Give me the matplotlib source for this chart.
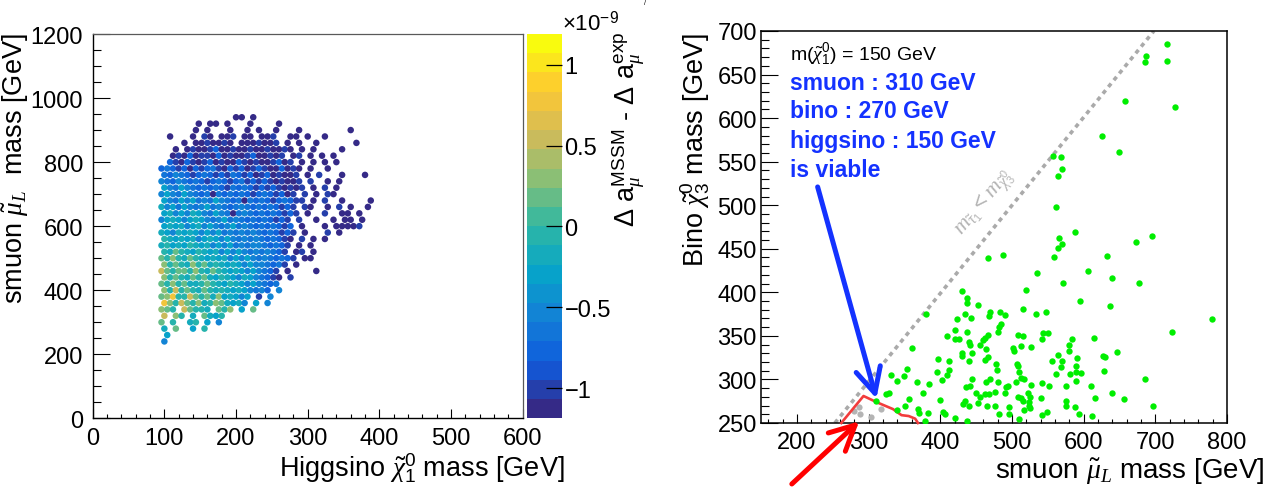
import matplotlib
matplotlib.use("Agg")
import matplotlib.pyplot as plt
from matplotlib.colors import LinearSegmentedColormap, Normalize
from matplotlib.ticker import MultipleLocator

plt.rcParams['font.family'] = ['Liberation Sans', 'DejaVu Sans']
plt.rcParams['mathtext.fontset'] = 'custom'
plt.rcParams['mathtext.rm'] = 'Liberation Sans'
plt.rcParams['mathtext.it'] = 'Liberation Serif:italic'
plt.rcParams['mathtext.bf'] = 'Liberation Sans:bold'
plt.rcParams['mathtext.sf'] = 'Liberation Sans'
plt.rcParams['axes.unicode_minus'] = True

# ---------------- left panel: scan points (raster) -------------
# each row is one smuon-mass band (top row = 940 GeV, step 20 GeV);
# each character one higgsino-mass column (first = 96 GeV, step 8 GeV);
# letter = colour level of Delta a_mu (see level_codes / level_values), '.' = no point
higgsino_first = 96
higgsino_step = 8
smuon_first = 940
smuon_step = 20
scan_rows = [
    ".............aa.a.....................",
    "......a.aa.a...a....a.................",
    "......a.a...a..a.a..a...a........a....",
    ".a...a.ba.aab.aa.aab..aa.a..a.........",
    "....a.aabaaba.aaabaab.a.a..a......a...",
    "..a.abaabcaabaabaabaaba.a.a....a......",
    "..abacabbacabaabcaabab.ab.a.a.a.......",
    ".cbacbabcabaacbabaabcab.a.a.a.a.......",
    "cdcbcacbcdbacbcabcbaacaba.a..a........",
    "dcedcbcdcbcbdcbcabcabaab.a.b...a...a..",
    "edcedcdcbcdcbcdbcbcbabaab.b..a.a......",
    "fedfedcdcdcbdcdcbcbcbabab.a.b.a.......",
    "efedfedcdadcdcdcbcdcbcab.b.a.ba.......",
    "fedfefdedfedcdadcdcbcdcbb.a.b..a....a.",
    "gefdfedefdedcdedcdcdcbcb.ba..a.b.a..a.",
    "fgefegfedfedadedcdcdcbcb.a..b..aa.a...",
    "efgfefgfedefdedcdcdcbcb.b..a..a.aa.a..",
    "fgfgefgefedefdedcdcdcbc.a...a.aaaab...",
    "gfegfgfefefdedededcdcbcb.a...b.a......",
    "hgfgfgefgfefedededcdcba.b.a.a.........",
    "ghfgfhgfgefefdedeedcdcb.a.a...........",
    "hgihgfhgfgefefedededcb.ab.a...........",
    "ihjhgihgfgfgefefededcdcb.aa...........",
    "jhihgjhighgfgfefeedcdb.a..............",
    "kihiihjhgihgfgfefedcb.a....a..........",
    "jhihgihigfhgfegfedcba.b...............",
    "ihjhigghihgfhgfefedcd.................",
    "jhkhihgihghgfgfedec.e.................",
    "ijlhhkihigjfgfef.b.e..................",
    "ljhkihjghjigfge.f.e...................",
    "jih.kihhg.ihj.f.i.....................",
    "k.jh.g.igfh...........................",
    "i.h..gh.f.e...........................",
    "g.i..f.h..............................",
    ".f....................................",
    "e.....................................",
]
level_codes = "abcdefghijkl"
level_values = [-1.10, -0.95, -0.80, -0.65, -0.50, -0.35, -0.20, -0.05, 0.15, 0.35, 0.55, 0.80]

cbar_ticks = [-1.0, -0.5, 0.0, 0.5, 1.0]
cbar_ticklabels = ["\u22121", "\u22120.5", "0", "0.5", "1"]
cbar_min, cbar_max = -1.187, 1.19

# ROOT kBird palette
bird_stops = [0.0, 0.125, 0.25, 0.375, 0.5, 0.625, 0.75, 0.875, 1.0]
bird_r = [0.2082, 0.0592, 0.0780, 0.0232, 0.1802, 0.5301, 0.8186, 0.9956, 0.9764]
bird_g = [0.1664, 0.3599, 0.5041, 0.6419, 0.7178, 0.7492, 0.7328, 0.7862, 0.9832]
bird_b = [0.5293, 0.8684, 0.8385, 0.7914, 0.6425, 0.4662, 0.3499, 0.1968, 0.0539]

# ---------------- right panel ----------------
viable_smuon = [716, 686, 687, 716, 658, 727, 626, 650, 557, 569, 570, 564, 562, 588, 695, 673,
                565, 570, 564, 558, 466, 487, 632, 606, 535, 639, 571, 677, 519, 431, 595, 438,
                437, 452, 380, 435, 470, 468, 484, 490, 516, 533, 547, 637, 779, 443, 423, 485,
                482, 480, 421, 437, 409, 420, 426, 440, 459, 466, 463, 509, 516, 527, 543, 550,
                542, 584, 614, 723, 360, 441, 456, 464, 502, 512, 503, 580, 580, 647, 627, 630,
                564, 591, 430, 431, 445, 466, 397, 412, 463, 440, 556, 570, 589, 507, 508, 510,
                478, 479, 354, 396, 412, 569, 589, 597, 562, 581, 629, 686, 332, 349, 340, 367,
                385, 409, 403, 444, 469, 464, 481, 494, 492, 505, 512, 517, 527, 542, 552, 575,
                589, 610, 324, 329, 376, 436, 442, 450, 455, 462, 468, 476, 490, 509, 512, 523,
                525, 540, 616, 639, 656, 434, 432, 452, 516, 524, 524, 575, 356, 369, 399, 351,
                340, 370, 383, 404, 406, 420, 379, 438, 440, 465, 477, 482, 496, 496, 510, 517,
                525, 542, 549, 575, 588, 593, 611, 697, 311]
viable_bino = [685, 664, 671, 665, 620, 613, 580, 561, 556, 555, 542, 533, 498, 469, 465, 458,
               462, 456, 451, 441, 439, 443, 442, 425, 422, 416, 411, 411, 403, 402, 390, 394,
               388, 385, 375, 375, 377, 373, 377, 374, 381, 375, 377, 384, 369, 371, 369, 364,
               360, 355, 357, 355, 350, 347, 346, 343, 345, 351, 348, 351, 350, 337, 353, 353,
               346, 347, 348, 354, 336, 339, 339, 335, 336, 338, 333, 339, 333, 332, 327, 326,
               328, 325, 330, 327, 330, 326, 323, 321, 322, 321, 321, 321, 316, 318, 315, 309,
               318, 311, 312, 309, 311, 314, 309, 307, 306, 306, 310, 300, 305, 304, 298, 297,
               295, 305, 299, 301, 301, 297, 297, 293, 291, 297, 302, 301, 294, 296, 292, 293,
               298, 293, 283, 284, 284, 291, 292, 284, 280, 283, 283, 286, 284, 280, 279, 284,
               280, 279, 279, 284, 278, 275, 272, 273, 275, 274, 270, 275, 277, 266, 276, 270,
               265, 262, 261, 263, 260, 256, 252, 252, 269, 270, 270, 260, 260, 268, 255, 265,
               267, 259, 263, 270, 268, 260, 258, 270, 275]
excluded_smuon = [280, 287, 288, 304, 318]
excluded_bino = [264, 268, 260, 257, 266]
limit_smuon = [262, 293, 311, 334, 346, 356, 365, 369]
limit_bino = [250, 281, 274, 266, 259, 258, 255, 250]
diag_smuon = [253, 698]
diag_bino = [250, 700]
blue_arrow_from = (229, 521)
blue_arrow_to = (311, 278)
red_arrow_from = (193, 180)
red_arrow_to = (287, 252)
info_lines = ["smuon : 310 GeV", "bino : 270 GeV", "higgsino : 150 GeV", "is viable"]

# ---------------- figure ----------------
W, H = 1267, 489
fig = plt.figure(figsize=(W / 100, H / 100), dpi=100)
fig.patch.set_facecolor('white')


def px(x0, y0, x1, y1):
    return [x0 / W, 1 - y1 / H, (x1 - x0) / W, (y1 - y0) / H]


ax1 = fig.add_axes(px(92.7, 35, 522.7, 419.3))
cax = fig.add_axes(px(527.3, 35, 561.7, 419.3))
ax2 = fig.add_axes(px(761, 32, 1227, 424))

colors = [(s, (r, g, b)) for s, r, g, b in zip(bird_stops, bird_r, bird_g, bird_b)]
cmap = LinearSegmentedColormap.from_list('bird', colors, N=20)
norm = Normalize(vmin=cbar_min, vmax=cbar_max)

hx, hy, hz = [], [], []
for j, row in enumerate(scan_rows):
    for i, ch in enumerate(row):
        if ch in level_codes:
            hx.append(higgsino_first + higgsino_step * i + (higgsino_step / 2) * (j % 2))
            hy.append(smuon_first - smuon_step * j)
            hz.append(level_values[level_codes.index(ch)])

sc = ax1.scatter(hx, hy, c=hz, cmap=cmap, norm=norm, s=22, linewidths=0, zorder=2)
ax1.set_xlim(0, 600)
ax1.set_ylim(0, 1200)
ax1.xaxis.set_major_locator(MultipleLocator(100))
ax1.xaxis.set_minor_locator(MultipleLocator(20))
ax1.yaxis.set_major_locator(MultipleLocator(200))
ax1.yaxis.set_minor_locator(MultipleLocator(50))
for ax in (ax1, ax2):
    ax.tick_params(which='both', direction='in', top=False, right=False, width=0.8, colors='black')
    ax.tick_params(axis='x', which='major', length=6.7, pad=6, labelsize=17)
    ax.tick_params(axis='x', which='minor', length=3.2)
    ax.tick_params(axis='y', which='major', length=12, labelsize=17)
    ax.tick_params(axis='y', which='minor', length=6)
ax1.tick_params(axis='y', which='major', pad=7)
ax2.tick_params(axis='y', which='major', pad=3)
for s in ('left', 'bottom'):
    ax1.spines[s].set_linewidth(1.0)
for s in ('top', 'right'):
    ax1.spines[s].set_linewidth(0.9)
    ax1.spines[s].set_color('0.35')
    ax1.spines[s].set_linestyle((0, (2, 1)))

cb = fig.colorbar(sc, cax=cax, ticks=cbar_ticks)
cb.outline.set_visible(False)
cax.yaxis.set_ticks_position('right')
cax.minorticks_off()
cax.tick_params(which='major', direction='in', length=11.3, width=0.9, pad=2, labelsize=17)
cb.set_ticklabels(cbar_ticklabels)

fig.text(562 / W, 1 - 30 / H, r"$\times$10$^{\mathregular{-9}}$", fontsize=16, ha='left', va='baseline')
fig.text(629 / W, 1 - 32 / H,
         r"$\mathit{\Delta}$ a$_{\mu}^{\mathrm{MSSM}}$ - $\mathit{\Delta}$ a$_{\mu}^{\mathrm{exp}}$",
         fontsize=19.5, rotation=90, ha='center', va='top')
fig.text(565 / W, 1 - 477 / H, r"Higgsino $\tilde{\chi}_1^0$ mass [GeV]", fontsize=19.5,
         ha='right', va='baseline')
fig.text(16 / W, 1 - 33 / H, r"smuon $\tilde{\mu}_L$  mass [GeV]", fontsize=19.5,
         rotation=90, ha='center', va='top')

# right panel
ax2.set_xlim(150, 800)
ax2.set_ylim(250, 700)
ax2.xaxis.set_major_locator(MultipleLocator(100))
ax2.xaxis.set_minor_locator(MultipleLocator(20))
ax2.yaxis.set_major_locator(MultipleLocator(50))
ax2.yaxis.set_minor_locator(MultipleLocator(10))
for s in ax2.spines.values():
    s.set_linewidth(1.1)

ax2.plot(diag_smuon, diag_bino, color='#aaaaaa', lw=2.6, linestyle=(0, (1.2, 1.2)), zorder=1)
ax2.scatter(excluded_smuon, excluded_bino, s=20, color='#b4b4b4', linewidths=0, zorder=2)
ax2.plot(limit_smuon, limit_bino, color='#f23c3c', lw=1.9, zorder=3, clip_on=False)
ax2.scatter(viable_smuon, viable_bino, s=21, color='#00ee00', linewidths=0, zorder=4)

ax2.text(462, 503, r"$m_{\tilde{\tau}_1} < m_{\tilde{\chi}^0_3}$", rotation=50, color='#b4b4b4',
         fontsize=16, ha='center', va='center', rotation_mode='anchor')

ax2.text(190.5, 667, r"m($\tilde{\chi}_1^0$) = 150 GeV", fontsize=14, ha='left', va='baseline')
for k, line in enumerate(info_lines):
    ax2.text(190.5, [633.4, 601, 566.5, 533.2][k], line, fontsize=16.5, fontweight='bold',
             color='#1432ff', ha='left', va='baseline')

ax2.annotate('', xy=blue_arrow_to, xytext=blue_arrow_from,
             arrowprops=dict(arrowstyle='->,head_length=0.9,head_width=0.45', color='#1432ff',
                             lw=3.6, mutation_scale=20, shrinkA=0, shrinkB=0),
             annotation_clip=False, zorder=6)
ax2.annotate('', xy=red_arrow_to, xytext=red_arrow_from,
             arrowprops=dict(arrowstyle='->,head_length=0.9,head_width=0.45', color='#ff0000',
                             lw=3.6, mutation_scale=20, shrinkA=0, shrinkB=0),
             annotation_clip=False, zorder=6)

fig.text(1264 / W, 1 - 479 / H, r"smuon $\tilde{\mu}_L$ mass [GeV]", fontsize=20,
         ha='right', va='baseline')
fig.text(695 / W, 1 - 33 / H, r"Bino $\tilde{\chi}_3^0$ mass [GeV]", fontsize=19.5,
         rotation=90, ha='center', va='top')
fig.text(645 / W, 0.999, "/", fontsize=5, ha='center', va='top')

fig.savefig('out.png', dpi=100, facecolor='white')
